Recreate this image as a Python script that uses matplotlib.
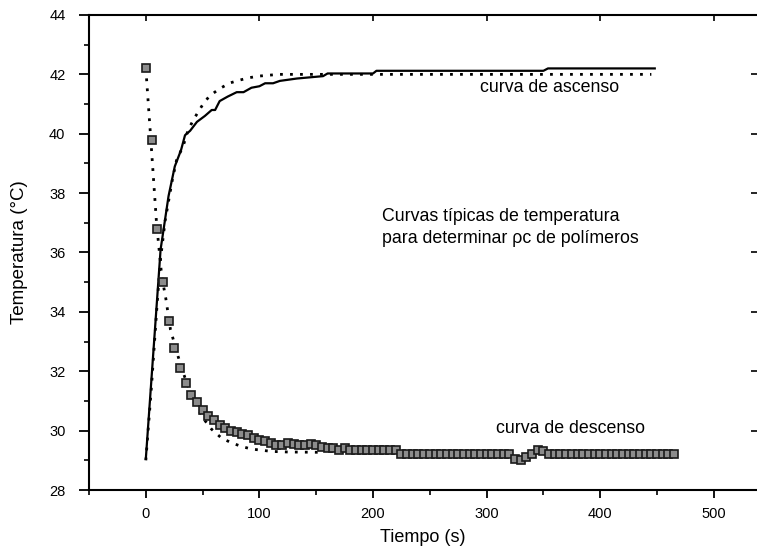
import numpy as np
import matplotlib
matplotlib.use('Agg')
import matplotlib.pyplot as plt

plt.rcParams['font.family'] = ['Liberation Sans', 'DejaVu Sans']

# Curva de descenso (puntos medidos cada 5 s)
t_desc = np.arange(0, 470, 5)
T_desc = [42.2, 39.8, 36.8, 35.0, 33.7, 32.8, 32.1, 31.6, 31.2, 30.95,
          30.7, 30.5, 30.35, 30.2, 30.1, 30.0, 29.95, 29.9, 29.85, 29.75,
          29.7, 29.65, 29.6, 29.5, 29.5, 29.6, 29.55, 29.5, 29.5, 29.55,
          29.5, 29.45, 29.4, 29.4, 29.35, 29.4, 29.35, 29.35, 29.35, 29.35,
          29.35, 29.35, 29.35, 29.35, 29.35, 29.2, 29.2, 29.2, 29.2, 29.2,
          29.2, 29.2, 29.2, 29.2, 29.2, 29.2, 29.2, 29.2, 29.2, 29.2,
          29.2, 29.2, 29.2, 29.2, 29.2, 29.05, 29.0, 29.1, 29.2, 29.35,
          29.3, 29.2, 29.2, 29.2, 29.2, 29.2, 29.2, 29.2, 29.2, 29.2,
          29.2, 29.2, 29.2, 29.2, 29.2, 29.2, 29.2, 29.2, 29.2, 29.2,
          29.2, 29.2, 29.2, 29.2]

# Ajuste de la curva de descenso
t_desc_fit = [0, 4.4, 9.4, 14, 17.6, 21.7, 28.4, 34.3, 40, 45, 51, 57.8,
              66.6, 75.4, 84, 93, 102, 110.6, 125, 153]
T_desc_fit = [42.2, 39.8, 37.0, 35.2, 34.45, 33.4, 32.5, 31.8, 31.2, 30.8,
              30.39, 30.05, 29.75, 29.59, 29.47, 29.38, 29.34, 29.3, 29.28, 29.27]

# Curva de ascenso (medida)
t_asc = [0, 13, 20, 25.5, 31, 34.5, 39, 45, 52, 58, 61, 65, 72, 80, 86, 93,
         100, 105, 112, 118, 133, 156, 160, 200, 203, 350, 354, 448]
T_asc = [29.05, 36.1, 37.9, 38.9, 39.45, 39.95, 40.1, 40.4, 40.6, 40.8, 40.8,
         41.1, 41.25, 41.4, 41.4, 41.55, 41.6, 41.7, 41.7, 41.78, 41.86, 41.94,
         42.03, 42.03, 42.12, 42.12, 42.2, 42.2]

# Ajuste de la curva de ascenso
t_asc_fit = [0, 5, 10, 13, 17, 19.6, 23.5, 27, 30, 33, 37, 41.6, 46, 50.4,
             56, 65, 74, 82, 90, 99, 108, 117, 445]
T_asc_fit = [29.0, 31.5, 34.3, 35.8, 37.07, 37.64, 38.48, 39.1, 39.35, 39.6,
             40.1, 40.45, 40.73, 41.0, 41.27, 41.52, 41.71, 41.8, 41.88, 41.94,
             41.97, 42.0, 42.0]

fig = plt.figure(figsize=(7.57, 5.55), dpi=100)
ax = fig.add_axes([0.1176, 0.1171, 0.8824, 0.8559])

dots = (0, (1, 2.6))
ax.plot(t_asc, T_asc, color='black', lw=1.6, zorder=3)
ax.plot(t_asc_fit, T_asc_fit, color='black', lw=2, linestyle=dots, zorder=2)
ax.plot(t_desc_fit, T_desc_fit, color='black', lw=2, linestyle=dots, zorder=2)
ax.plot(t_desc, T_desc, linestyle='none', marker='s', markersize=6.2,
        markerfacecolor='#8c8c8c', markeredgecolor='#1a1a1a',
        markeredgewidth=1.2, zorder=4)

ax.set_xlim(-50, 538)
ax.set_ylim(28, 44)
ax.set_xticks(np.arange(0, 501, 100))
ax.set_xticks(np.arange(-50, 538, 50), minor=True)
ax.set_yticks(np.arange(28, 45, 2))
ax.set_yticks(np.arange(29, 44, 2), minor=True)

for side in ['left', 'bottom', 'top']:
    ax.spines[side].set_linewidth(1.5)
ax.spines['right'].set_visible(False)

ax.tick_params(axis='x', which='major', direction='out', length=6, width=1.3,
               labelsize=10.5, pad=6)
ax.tick_params(axis='y', which='major', direction='out', length=7, width=1.3,
               labelsize=10.5, pad=10)
ax.tick_params(which='minor', direction='out', length=3.5, width=1.2)

# marcas interiores en los lados superior y derecho
top = ax.secondary_xaxis('top')
top.set_xticks(np.arange(0, 501, 100))
top.tick_params(direction='in', length=4, width=1.2, labeltop=False)
top.spines['top'].set_visible(False)
right = ax.secondary_yaxis('right')
right.set_yticks(np.arange(28, 45, 2))
right.tick_params(direction='in', length=4, width=1.2, labelright=False)
right.spines['right'].set_visible(False)

ax.set_xlabel('Tiempo (s)', fontsize=13, labelpad=6)
ax.set_ylabel('Temperatura (°C)', fontsize=13.5)
ax.yaxis.set_label_coords(-0.091, 0.5)

ax.text(355, 41.57, 'curva de ascenso', fontsize=12.8, ha='center', va='center')
ax.text(374, 30.08, 'curva de descenso', fontsize=12.8, ha='center', va='center')
ax.text(208, 37.5, 'Curvas típicas de temperatura\npara determinar ρc de polímeros',
        fontsize=12.8, ha='left', va='top', linespacing=1.4)

fig.savefig('out.png', dpi=100)
